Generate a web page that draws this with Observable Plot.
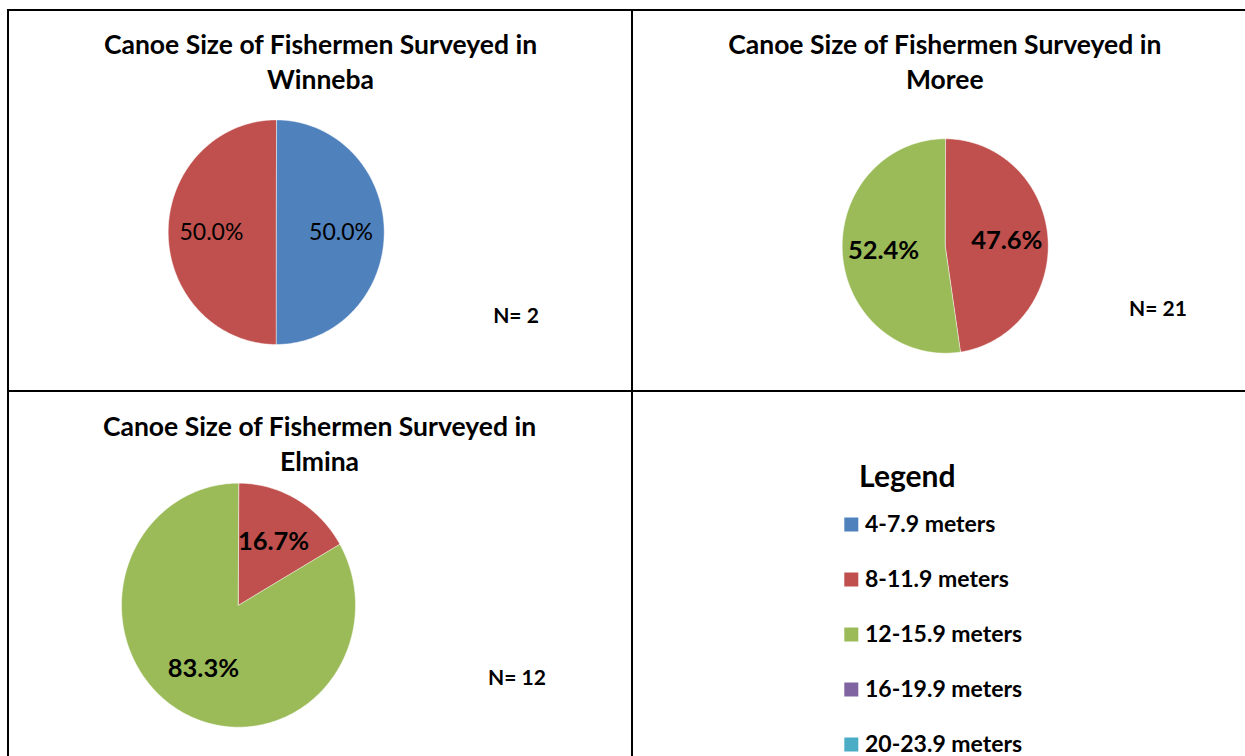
<!DOCTYPE html>
<html><head><meta charset="utf-8">
<script src="https://cdn.jsdelivr.net/npm/d3@7"></script>
<script src="https://cdn.jsdelivr.net/npm/@observablehq/plot@0.6"></script>
<style>
html,body{margin:0;padding:0;background:#fff;overflow:hidden;}
#page{position:relative;width:1245px;height:756px;font-family:Lato,sans-serif;}
.rule{position:absolute;background:#000;}
.panel{position:absolute;}
.panel svg{display:block;overflow:visible;}
</style></head><body><div id="page"></div>
<script>
// ---- data ----
const sizes = ["4-7.9 meters", "8-11.9 meters", "12-15.9 meters", "16-19.9 meters", "20-23.9 meters"];
const colors = ["#4F81BD", "#C0504D", "#9BBB59", "#8064A2", "#4BACC6"];
const sites = ["Winneba", "Moree", "Elmina"];
const winnebaCounts = [1, 1, 0, 0, 0];
const moreeCounts = [0, 10, 11, 0, 0];
const elminaCounts = [0, 2, 10, 0, 0];
const titlePrefix = "Canoe Size of Fishermen Surveyed in";
const legendTitle = "Legend";

// ---- layout (styles / positions) ----
const page = document.getElementById("page");
function rule(l, t, w, h) {
  const d = document.createElement("div");
  d.className = "rule";
  Object.assign(d.style, {left: l + "px", top: t + "px", width: w + "px", height: h + "px"});
  page.appendChild(d);
}
rule(7, 9, 1238, 2);
rule(7, 9, 2, 747);
rule(631, 9, 2, 747);
rule(7, 390, 1238, 2);

function place(el, left, top) {
  const wrap = document.createElement("div");
  wrap.className = "panel";
  wrap.style.left = left + "px";
  wrap.style.top = top + "px";
  wrap.appendChild(el);
  page.appendChild(wrap);
}

function sliceData(counts) {
  const total = d3.sum(counts);
  const arcs = d3.pie().sort(null).value(d => d)(counts);
  const pts = [], labels = [];
  arcs.forEach((a, i) => {
    if (a.value <= 0) return;
    const key = sizes[i];
    pts.push({key, x: 0, y: 0});
    const n = Math.max(2, Math.ceil((a.endAngle - a.startAngle) / (Math.PI / 180)));
    for (let k = 0; k <= n; k++) {
      const t = a.startAngle + (a.endAngle - a.startAngle) * k / n;
      pts.push({key, x: Math.sin(t), y: Math.cos(t)});
    }
    const m = (a.startAngle + a.endAngle) / 2;
    labels.push({key, x: 0.6 * Math.sin(m), y: 0.6 * Math.cos(m), text: d3.format(".1%")(a.value / total)});
  });
  return {pts, labels, total};
}

const panels = [
  {site: sites[0], counts: winnebaCounts, left: 9, top: 11, w: 622, h: 379,
   cx: 266.7, cy: 220.7, rx: 108, ry: 112.3, titleX: 311, titleY: 77, nX: 506.5, nY: 311,
   labelWeight: "normal", labelSize: 23},
  {site: sites[1], counts: moreeCounts, left: 633, top: 11, w: 612, h: 379,
   cx: 311.7, cy: 234.5, rx: 103, ry: 107.2, titleX: 311.3, titleY: 77, nX: 524.5, nY: 304,
   labelWeight: "bold", labelSize: 25.5},
  {site: sites[2], counts: elminaCounts, left: 9, top: 393, w: 622, h: 363,
   cx: 229, cy: 211.7, rx: 117, ry: 122, titleX: 310, titleY: 77, nX: 507.4, nY: 291,
   labelWeight: "bold", labelSize: 25.5}
];

const titleSize = 26.5;
for (const p of panels) {
  const {pts, labels, total} = sliceData(p.counts);
  const chart = Plot.plot({
    width: p.w, height: p.h, margin: 0,
    style: {fontFamily: "Lato, sans-serif", background: "transparent", color: "#000", overflow: "visible"},
    x: {domain: [-1, 1], range: [p.cx - p.rx, p.cx + p.rx], axis: null},
    y: {domain: [-1, 1], range: [p.cy + p.ry, p.cy - p.ry], axis: null},
    color: {domain: sizes, range: colors},
    marks: [
      Plot.line(pts, {x: "x", y: "y", z: "key", fill: "key", stroke: "white", strokeWidth: 0.6, strokeOpacity: 0.8, curve: "linear-closed"}),
      Plot.text(labels, {x: "x", y: "y", text: "text", fontSize: p.labelSize, fontWeight: p.labelWeight, fill: "#000", textAnchor: "middle", lineAnchor: "middle"}),
      Plot.text([titlePrefix + "\n" + p.site], {frameAnchor: "top-left", dx: p.titleX, dy: p.titleY, text: d => d,
        fontSize: titleSize, fontWeight: "bold", fill: "#000", textAnchor: "middle", lineAnchor: "bottom", lineHeight: 35 / titleSize}),
      Plot.text([`N= ${total}`], {frameAnchor: "top-left", dx: p.nX, dy: p.nY, text: d => d,
        fontSize: 21, fontWeight: "bold", fill: "#000", textAnchor: "middle", lineAnchor: "bottom"})
    ]
  });
  place(chart, p.left, p.top);
}

// legend panel
const legendChart = Plot.plot({
  width: 612, height: 363, margin: 0,
  style: {fontFamily: "Lato, sans-serif", background: "transparent", color: "#000", overflow: "visible"},
  x: {domain: [0, 1], range: [217.8, 231.5], axis: null},
  y: {type: "point", domain: sizes, range: [131, 351.6], padding: 0, axis: null},
  color: {domain: sizes, range: colors},
  marks: [
    Plot.text([legendTitle], {frameAnchor: "top-left", dx: 225.6, dy: 93, text: d => d, fontSize: 30, fontWeight: "bold", fill: "#000", textAnchor: "start", lineAnchor: "bottom"}),
    Plot.dot(sizes, {x: 0, y: d => d, fill: d => d, symbol: "square", r: 7.9, stroke: "none"}),
    Plot.text(sizes, {x: 1, y: d => d, text: d => d, fontSize: 23, fontWeight: "bold", fill: "#000", textAnchor: "start", lineAnchor: "middle"})
  ]
});
place(legendChart, 633, 393);
</script></body></html>
